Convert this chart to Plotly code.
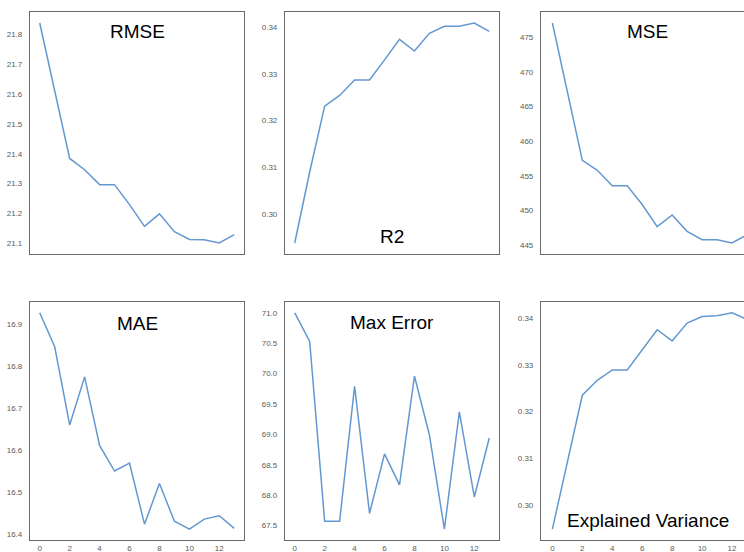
import plotly.graph_objects as go

steps = list(range(14))

rmse = [21.839, 21.612, 21.384, 21.346, 21.296, 21.296, 21.229, 21.156, 21.198, 21.138, 21.112, 21.111, 21.100, 21.128]
r2 = [0.2938, 0.3090, 0.3231, 0.3254, 0.3287, 0.3287, 0.3330, 0.3374, 0.3349, 0.3387, 0.3402, 0.3402, 0.3409, 0.3391]
mse = [477.08, 467.0, 457.24, 455.79, 453.56, 453.56, 450.85, 447.66, 449.35, 446.98, 445.77, 445.77, 445.29, 446.5]
mae = [16.928, 16.847, 16.660, 16.775, 16.611, 16.550, 16.569, 16.423, 16.520, 16.430, 16.411, 16.435, 16.443, 16.413]
max_error = [71.0, 70.53, 67.57, 67.57, 69.79, 67.70, 68.68, 68.17, 69.96, 68.99, 67.44, 69.37, 67.97, 68.94]
explained_variance = [0.2949, 0.3092, 0.3235, 0.3267, 0.3289, 0.3289, 0.3332, 0.3375, 0.3351, 0.3389, 0.3403, 0.3405, 0.3411, 0.3397]

titles = ["RMSE", "R2", "MSE", "MAE", "Max Error", "Explained Variance"]
series = [rmse, r2, mse, mae, max_error, explained_variance]
ytick_vals = [
    [21.1, 21.2, 21.3, 21.4, 21.5, 21.6, 21.7, 21.8],
    [0.30, 0.31, 0.32, 0.33, 0.34],
    [445, 450, 455, 460, 465, 470, 475],
    [16.4, 16.5, 16.6, 16.7, 16.8, 16.9],
    [67.5, 68.0, 68.5, 69.0, 69.5, 70.0, 70.5, 71.0],
    [0.30, 0.31, 0.32, 0.33, 0.34],
]
ytick_fmt = [".1f", ".2f", "d", ".1f", ".1f", ".2f"]
xtick_vals = [0, 2, 4, 6, 8, 10, 12]

W, H = 744, 552
col_px = [(30, 244), (285, 499), (541, 744)]
row_px = [(12, 254), (302, 540)]
xranges = [[-0.65, 13.65], [-0.65, 13.65], [-0.76, 12.80]]
# title anchor positions in pixels (center x, center y)
title_pos = [(137, 31.5), (392, 236), (647, 31.5), (137, 323.5), (392, 322.5), (647.5, 520.5)]

LINE = "#6398d0"
FRAME = "#6b6b6b"
TICKC = "#5a5a5a"

fig = go.Figure()
layout = dict(
    width=W, height=H,
    margin=dict(l=0, r=0, t=0, b=0),
    paper_bgcolor="white", plot_bgcolor="white",
    showlegend=False,
    font=dict(family="Liberation Sans, Arial, sans-serif"),
)
annotations = []
for i, (title, ys) in enumerate(zip(titles, series)):
    r, c = divmod(i, 3)
    n = i + 1
    xa = "xaxis" if n == 1 else f"xaxis{n}"
    ya = "yaxis" if n == 1 else f"yaxis{n}"
    xref = "x" if n == 1 else f"x{n}"
    yref = "y" if n == 1 else f"y{n}"
    fig.add_trace(go.Scatter(x=steps, y=ys, mode="lines",
                             line=dict(color=LINE, width=1.5),
                             xaxis=xref, yaxis=yref, hoverinfo="skip"))
    ymin, ymax = min(ys), max(ys)
    pad = 0.05 * (ymax - ymin)
    x0, x1 = col_px[c]
    y0, y1 = row_px[r]
    layout[xa] = dict(
        domain=[x0 / W, x1 / W], anchor=yref, range=xranges[c],
        showgrid=False, zeroline=False, automargin=False,
        showline=True, linecolor=FRAME, linewidth=1.2, mirror=True,
        tickvals=xtick_vals, showticklabels=(r == 1), ticks="",
        tickfont=dict(size=8, color=TICKC), ticklabelstandoff=0,
    )
    layout[ya] = dict(
        domain=[1 - y1 / H, 1 - y0 / H], anchor=xref,
        range=[ymin - pad, ymax + pad],
        showgrid=False, zeroline=False, automargin=False,
        showline=True, linecolor=FRAME, linewidth=1.2, mirror=(c != 2),
        tickvals=ytick_vals[i], tickformat=ytick_fmt[i], ticks="",
        tickfont=dict(size=8, color=TICKC), ticklabelstandoff=5,
    )
    tx, ty = title_pos[i]
    annotations.append(dict(
        text=title, x=tx / W, y=1 - ty / H, xref="paper", yref="paper",
        xanchor="center", yanchor="middle", showarrow=False,
        font=dict(size=19, color="black", family="Liberation Sans, Arial, sans-serif"),
    ))

layout["annotations"] = annotations
fig.update_layout(**layout)
fig.write_html("out.html")
